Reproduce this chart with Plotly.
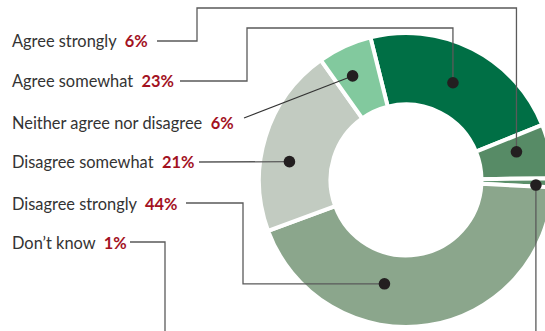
import math
import plotly.graph_objects as go

# Survey answers, in the order they are listed down the left side
categories = ["Agree strongly", "Agree somewhat", "Neither agree nor disagree",
              "Disagree somewhat", "Disagree strongly", "Don’t know"]
shares = [6, 23, 6, 21, 44, 1]
pct_labels = ["6%", "23%", "6%", "21%", "44%", "1%"]
colors = ["#578b66", "#006f45", "#82c99e", "#c2cbc1", "#8ba68c", "#5b8f6a"]

# Clockwise order of the slices around the ring, starting near 12 o'clock
ring_order = [1, 0, 5, 4, 3, 2]
START_DEG = -14

# Canvas and ring geometry (pixels)
W, H = 560, 331
CX, CY = 406, 180
GAP = 4
R = 145 + GAP / 2
HOLE = (77.5 - GAP / 2) / R

# Marker position inside each slice: fraction along the arc, radius in px
dot_spec = [(0.36, 114), (0.485, 108), (0.385, 117), (0.39, 118), (0.63, 106), (0.8, 130)]
ROW_Y = [41, 81, 122, 162, 203, 242]
LABEL_X = 10

# Leader routes: fixed waypoints from the label, then how to reach the dot
routes = [
    ([(157, 41), (197, 41), (197, 8)], "hv"),
    ([(180, 81), (247, 81), (247, 28)], "hv"),
    ([(244, 118)], "direct"),
    ([(199, 162)], "direct"),
    ([(186, 203), (243, 203)], "vh"),
    ([(130, 242), (165, 242), (165, 345)], "none"),
]


def px(x):
    return x / W


def py(y):
    return 1 - y / H


# slice angles (clockwise from 12 o'clock)
total = sum(shares)
angles = {}
a = START_DEG
for i in ring_order:
    span = 360 * shares[i] / total
    angles[i] = (a, a + span)
    a += span

dots = []
for i in range(len(categories)):
    a0, a1 = angles[i]
    f, rr = dot_spec[i]
    ang = math.radians(a0 + f * (a1 - a0))
    dots.append((CX + rr * math.sin(ang), CY - rr * math.cos(ang)))

fig = go.Figure()
fig.add_trace(go.Pie(
    labels=[categories[i] for i in ring_order],
    values=[shares[i] for i in ring_order],
    marker=dict(colors=[colors[i] for i in ring_order], line=dict(color="white", width=GAP)),
    sort=False,
    direction="clockwise",
    rotation=START_DEG,
    hole=HOLE,
    textinfo="none",
    hoverinfo="label+percent",
    showlegend=False,
    domain=dict(x=[px(CX - R), px(CX + R)], y=[py(CY + R), py(CY - R)]),
))

shapes = []
line_style = dict(color="#5a5a5a", width=1.3)
for i, (pts, mode) in enumerate(routes):
    dx, dy = dots[i]
    path_pts = list(pts)
    if mode == "hv":
        path_pts += [(dx, path_pts[-1][1]), (dx, dy)]
    elif mode == "vh":
        path_pts += [(path_pts[-1][0], dy), (dx, dy)]
    elif mode == "direct":
        path_pts += [(dx, dy)]
    if len(path_pts) > 1:
        d = "M " + " L ".join(f"{px(x):.5f},{py(y):.5f}" for x, y in path_pts)
        style = dict(color="#333333", width=1.1) if i == 2 else line_style
        shapes.append(dict(type="path", path=d, xref="paper", yref="paper",
                           line=style, layer="above"))

# the "Don't know" dot drops straight down off the canvas
dkx, dky = dots[5]
shapes.append(dict(type="line", xref="paper", yref="paper",
                   x0=px(dkx), y0=py(dky), x1=px(dkx), y1=py(345),
                   line=line_style, layer="above"))

DOT_R = 5.8
for dx, dy in dots:
    shapes.append(dict(type="circle", xref="paper", yref="paper",
                       x0=px(dx - DOT_R), x1=px(dx + DOT_R),
                       y0=py(dy + DOT_R), y1=py(dy - DOT_R),
                       fillcolor="#231f20", line=dict(width=0), layer="above"))

annotations = []
for cat, pct, y in zip(categories, pct_labels, ROW_Y):
    annotations.append(dict(
        x=px(LABEL_X), y=py(y), xref="paper", yref="paper",
        xanchor="left", yanchor="middle", showarrow=False,
        text=f"{cat}&nbsp;&nbsp;<b><span style='color:#a3121f'>{pct}</span></b>",
        font=dict(family="Lato", size=16.4, color="#333333"),
    ))

fig.update_layout(
    width=W, height=H,
    margin=dict(l=0, r=0, t=0, b=0),
    paper_bgcolor="white", plot_bgcolor="white",
    shapes=shapes, annotations=annotations,
)

fig.write_html("out.html", config={"displayModeBar": False},
               post_script="document.documentElement.style.overflow='hidden';"
                           "document.body.style.overflow='hidden';")
